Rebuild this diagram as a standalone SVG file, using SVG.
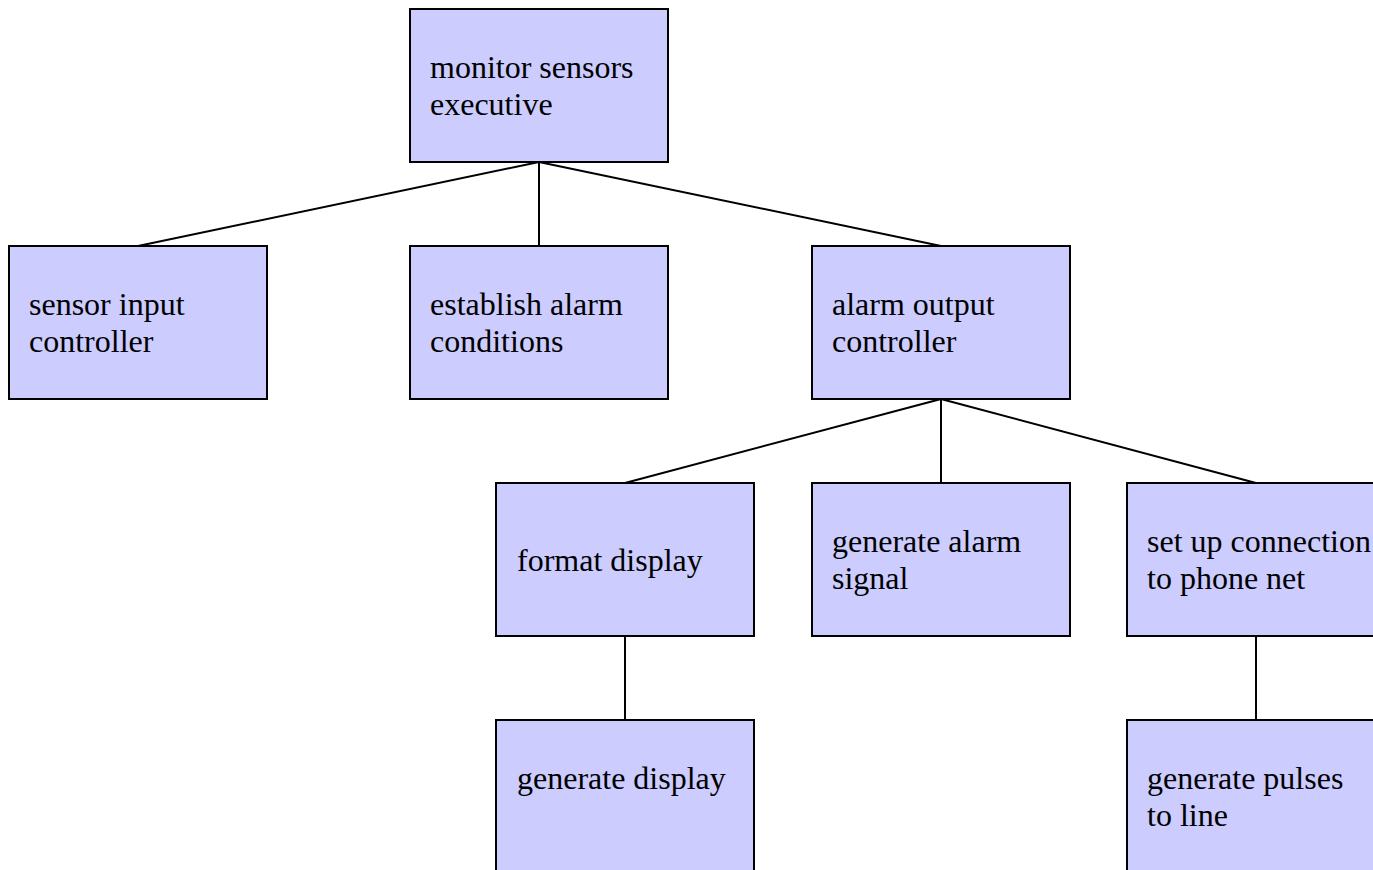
<svg xmlns="http://www.w3.org/2000/svg" width="1373" height="870" viewBox="0 0 1373 870">
  <style>
    .box { fill: #ccccff; stroke: #000; stroke-width: 2; }
    .lbl { font-family: "Liberation Serif", "Times New Roman", serif; font-size: 32px; fill: #000; }
    .link { stroke: #000; stroke-width: 2; fill: none; }
  </style>
  <rect width="1373" height="870" fill="#fff"/>

  <!-- hierarchy connectors -->
  <g id="connectors">
    <line class="link" x1="539" y1="162" x2="138" y2="246"/>
    <line class="link" x1="539" y1="162" x2="539" y2="246"/>
    <line class="link" x1="539" y1="162" x2="941" y2="246"/>
    <line class="link" x1="941" y1="399" x2="625" y2="483"/>
    <line class="link" x1="941" y1="399" x2="941" y2="483"/>
    <line class="link" x1="941" y1="399" x2="1256" y2="483"/>
    <line class="link" x1="625" y1="636" x2="625" y2="720"/>
    <line class="link" x1="1256" y1="636" x2="1256" y2="720"/>
  </g>

  <g id="monitor-sensors-executive">
    <rect class="box" x="410" y="9" width="258" height="153"/>
    <text class="lbl" x="430" y="78">monitor sensors</text>
    <text class="lbl" x="430" y="115">executive</text>
  </g>

  <g id="sensor-input-controller">
    <rect class="box" x="9" y="246" width="258" height="153"/>
    <text class="lbl" x="29" y="315">sensor input</text>
    <text class="lbl" x="29" y="352">controller</text>
  </g>

  <g id="establish-alarm-conditions">
    <rect class="box" x="410" y="246" width="258" height="153"/>
    <text class="lbl" x="430" y="315">establish alarm</text>
    <text class="lbl" x="430" y="352">conditions</text>
  </g>

  <g id="alarm-output-controller">
    <rect class="box" x="812" y="246" width="258" height="153"/>
    <text class="lbl" x="832" y="315">alarm output</text>
    <text class="lbl" x="832" y="352">controller</text>
  </g>

  <g id="format-display">
    <rect class="box" x="496" y="483" width="258" height="153"/>
    <text class="lbl" x="517" y="571">format display</text>
  </g>

  <g id="generate-alarm-signal">
    <rect class="box" x="812" y="483" width="258" height="153"/>
    <text class="lbl" x="832" y="552">generate alarm</text>
    <text class="lbl" x="832" y="589">signal</text>
  </g>

  <g id="set-up-connection">
    <rect class="box" x="1127" y="483" width="258" height="153"/>
    <text class="lbl" x="1147" y="552">set up connection</text>
    <text class="lbl" x="1147" y="589">to phone net</text>
  </g>

  <g id="generate-display">
    <rect class="box" x="496" y="720" width="258" height="153"/>
    <text class="lbl" x="517" y="789">generate display</text>
  </g>

  <g id="generate-pulses">
    <rect class="box" x="1127" y="720" width="258" height="153"/>
    <text class="lbl" x="1147" y="789">generate pulses</text>
    <text class="lbl" x="1147" y="826">to line</text>
  </g>
</svg>
